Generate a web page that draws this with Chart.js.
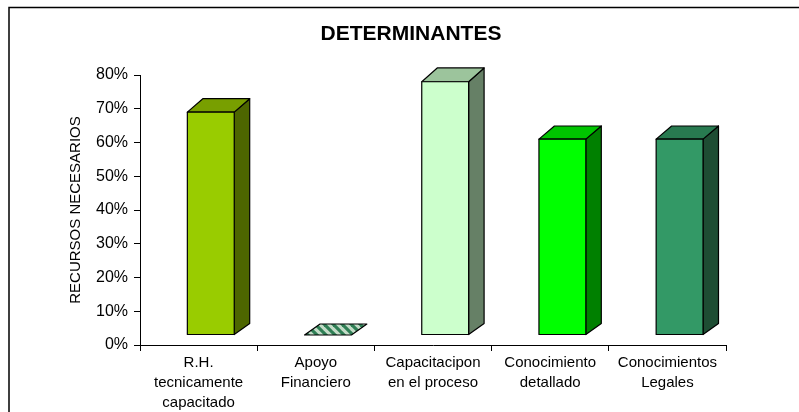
<!DOCTYPE html>
<html>
<head>
<meta charset="utf-8">
<script src="https://cdn.jsdelivr.net/npm/chart.js@4.4.0/dist/chart.umd.min.js"></script>
<style>
  html, body { margin: 0; padding: 0; background: #fff; }
  #wrap { width: 799px; height: 412px; }
</style>
</head>
<body>
<div id="wrap"><canvas id="detchart" width="799" height="412"></canvas></div>
<script>
// data
const categories = [
    ['R.H.', 'tecnicamente', 'capacitado'],
    ['Apoyo', 'Financiero'],
    ['Capacitacipon', 'en el proceso'],
    ['Conocimiento', 'detallado'],
    ['Conocimientos', 'Legales']
];
const values = [0.69, 0, 0.78, 0.61, 0.61];
const yTicks = [0, 0.1, 0.2, 0.3, 0.4, 0.5, 0.6, 0.7, 0.8];

// face colours of each 3d column (front, top, side)
const frontColors = ['#99cc00', 'hatch', '#ccffcc', '#00ff00', '#339966'];
const topColors = ['#789f00', 'hatch', '#9cc49c', '#00c400', '#287a50'];
const sideColors = ['#4d6600', '#4d6650', '#668066', '#008000', '#1e4d33'];

const FONT = "'Liberation Sans', Arial, sans-serif";

function makeHatch(ctx) {
    const c = document.createElement('canvas');
    c.width = 9;
    c.height = 9;
    const p = c.getContext('2d');
    p.fillStyle = '#c4dcc8';
    p.fillRect(0, 0, 9, 9);
    p.strokeStyle = '#2f7f55';
    p.lineWidth = 3.2;
    for (let k = -9; k <= 9; k += 9) {
        p.beginPath();
        p.moveTo(-2, -2 + k);
        p.lineTo(11, 11 + k);
        p.stroke();
    }
    return ctx.createPattern(c, 'repeat');
}

const frame = {
    id: 'frame',
    beforeDraw(chart) {
        const ctx = chart.ctx;
        ctx.save();
        ctx.fillStyle = '#fff';
        ctx.fillRect(0, 0, chart.width, chart.height);
        ctx.strokeStyle = '#000';
        ctx.lineWidth = 1.5;
        ctx.beginPath();
        ctx.moveTo(9, chart.height);
        ctx.lineTo(9, 7.5);
        ctx.lineTo(chart.width, 7.5);
        ctx.stroke();
        ctx.restore();
    }
};

const columns3d = {
    id: 'columns3d',
    afterDatasetsDraw(chart) {
        const ctx = chart.ctx;
        const meta = chart.getDatasetMeta(0);
        const hatch = makeHatch(ctx);
        ctx.save();
        ctx.strokeStyle = '#000';
        ctx.lineWidth = 1.2;
        ctx.lineJoin = 'round';
        meta.data.forEach(function (bar, i) {
            const w = bar.width;
            const left = bar.x + w * 0.26 - w / 2;
            const right = left + w;
            const dx = w * 0.33;
            const bottom = bar.base - 10;
            const top = Math.min(bar.y, bottom);
            const dyBot = 11;
            const dyTop = dyBot + (bottom - top) * 0.011;
            const fill = function (c) { return c === 'hatch' ? hatch : c; };

            // side
            ctx.fillStyle = fill(sideColors[i]);
            ctx.beginPath();
            ctx.moveTo(right, top);
            ctx.lineTo(right + dx, top - dyTop);
            ctx.lineTo(right + dx, bottom - dyBot);
            ctx.lineTo(right, bottom);
            ctx.closePath();
            if (bottom - top > 0.5) { ctx.fill(); ctx.stroke(); }

            // top
            ctx.fillStyle = fill(topColors[i]);
            ctx.beginPath();
            ctx.moveTo(left, top);
            ctx.lineTo(left + dx, top - dyTop);
            ctx.lineTo(right + dx, top - dyTop);
            ctx.lineTo(right, top);
            ctx.closePath();
            ctx.fill();
            ctx.stroke();

            // front
            if (bottom - top > 0.5) {
                ctx.fillStyle = fill(frontColors[i]);
                ctx.fillRect(left, top, w, bottom - top);
                ctx.strokeRect(left, top, w, bottom - top);
            }
        });
        ctx.restore();
    }
};

new Chart(document.getElementById('detchart'), {
    type: 'bar',
    data: {
        labels: categories,
        datasets: [{
            label: 'Determinantes',
            data: values,
            backgroundColor: 'rgba(0,0,0,0)',
            borderWidth: 0,
            barPercentage: 0.4,
            categoryPercentage: 1
        }]
    },
    options: {
        responsive: false,
        animation: false,
        events: [],
        layout: {
            padding: { left: 23, right: 0, top: 0, bottom: 0 }
        },
        plugins: {
            legend: { display: false },
            tooltip: { enabled: false },
            title: {
                display: true,
                text: 'DETERMINANTES',
                color: '#000',
                font: { family: FONT, size: 21, weight: 'bold', lineHeight: 24 / 21 },
                padding: { top: 22, bottom: 29 }
            }
        },
        scales: {
            x: {
                grid: {
                    offset: true,
                    drawOnChartArea: false,
                    color: '#000',
                    tickLength: 6
                },
                border: { display: true, color: '#000', width: 1 },
                ticks: {
                    color: '#000',
                    padding: 2,
                    maxRotation: 0,
                    autoSkip: false,
                    font: { family: FONT, size: 15, lineHeight: 20 / 15 }
                },
                afterFit(scale) { scale.height = 67; }
            },
            y: {
                position: 'left',
                min: 0,
                max: 0.8,
                afterBuildTicks(scale) {
                    scale.ticks = yTicks.map(function (v) { return { value: v }; });
                },
                grid: {
                    drawOnChartArea: false,
                    color: '#000',
                    tickLength: 6
                },
                border: { display: true, color: '#000', width: 1 },
                ticks: {
                    color: '#000',
                    padding: 6,
                    font: { family: FONT, size: 16 },
                    callback: function (v) { return Math.round(v * 100) + '%'; }
                },
                title: {
                    display: true,
                    text: 'RECURSOS NECESARIOS',
                    color: '#000',
                    font: { family: FONT, size: 15, lineHeight: 1.2 },
                    padding: { top: 44, bottom: 0 }
                },
                afterFit(scale) { scale.width = 117; }
            },
            spacer: {
                position: 'right',
                display: true,
                grid: { display: false },
                border: { display: false },
                ticks: { display: false },
                afterFit(scale) { scale.width = 73; }
            }
        }
    },
    plugins: [frame, columns3d]
});
</script>
</body>
</html>
